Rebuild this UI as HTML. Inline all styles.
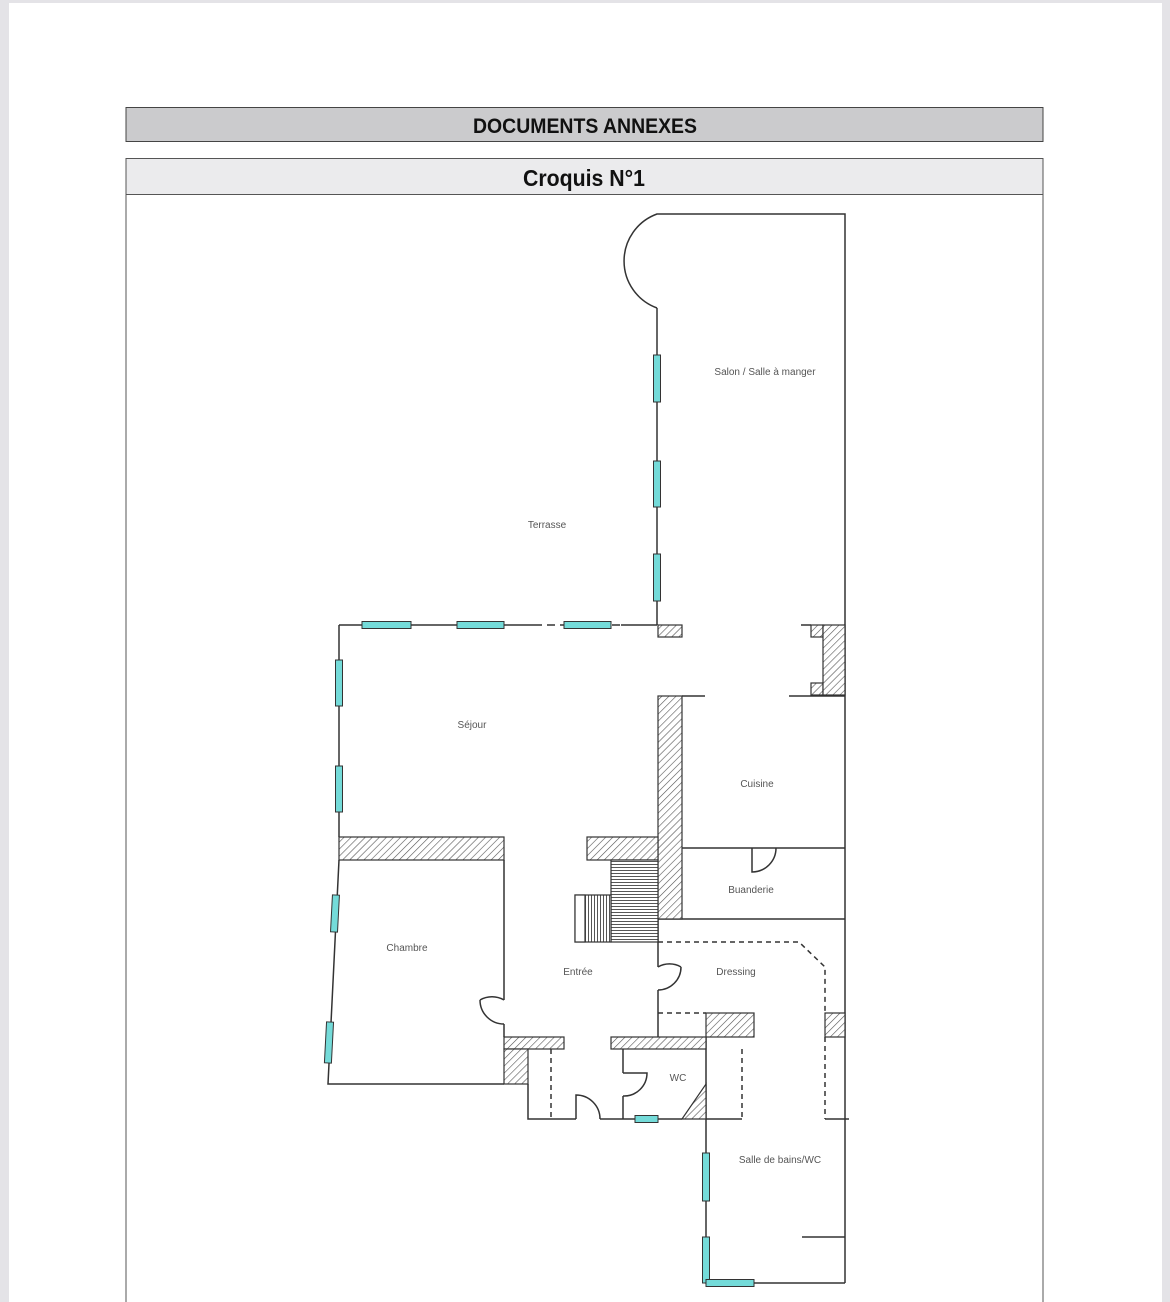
<!DOCTYPE html>
<html><head><meta charset="utf-8"><style>
html,body{margin:0;padding:0;width:1170px;height:1302px;overflow:hidden;background:#e4e3e7;}
svg{display:block}
</style></head><body>
<svg width="1170" height="1302" viewBox="0 0 1170 1302" xmlns="http://www.w3.org/2000/svg">
<defs>
<pattern id="h" patternUnits="userSpaceOnUse" width="5" height="5" patternTransform="rotate(45)">
<rect width="5" height="5" fill="#fff"/><line x1="0" y1="0" x2="0" y2="5" stroke="#555" stroke-width="1.2"/>
</pattern>
<pattern id="sv" patternUnits="userSpaceOnUse" width="3" height="3"><rect width="3" height="3" fill="#fff"/><line x1="0.5" y1="0" x2="0.5" y2="3" stroke="#444" stroke-width="0.9"/></pattern>
<pattern id="sh" patternUnits="userSpaceOnUse" width="3" height="3"><rect width="3" height="3" fill="#fff"/><line x1="0" y1="0.5" x2="3" y2="0.5" stroke="#444" stroke-width="0.9"/></pattern>
</defs>
<rect x="9" y="3" width="1153" height="1299" fill="#fff"/>
<rect x="126" y="107.5" width="917" height="34" fill="#cbcbcd" stroke="#444" stroke-width="1"/>
<text x="473" y="133" textLength="224" lengthAdjust="spacingAndGlyphs" font-family="Liberation Sans, sans-serif" font-weight="bold" font-size="21" fill="#111">DOCUMENTS ANNEXES</text>
<rect x="126" y="158.5" width="917" height="36" fill="#ebebed" stroke="#555" stroke-width="1"/>
<path d="M126 194.5V1302M1043 194.5V1302" stroke="#555" stroke-width="1"/>
<text x="523" y="186" textLength="122" lengthAdjust="spacingAndGlyphs" font-family="Liberation Sans, sans-serif" font-weight="bold" font-size="23" fill="#111">Croquis N°1</text>

<g fill="none" stroke="#333" stroke-width="1.5">
<path d="M657 308 A 50 50 0 0 1 657 214 L845 214 L845 1283"/>
<path d="M657 308 V625"/>
<path d="M339 625 H534 M621 625 H657"/>
<path d="M534 625 H621" stroke-dasharray="8 5"/>
<path d="M339 625 V837 M339 860 L328 1084 H504"/>
<path d="M801 625 H811 M789 696 H845 M682 696 H705"/>
<path d="M682 848 H845 M658 919 H845"/>
<path d="M504 860 V1000 M504 1024 V1037"/>
<path d="M658 919 V967 M658 990 V1037"/>
<path d="M528 1084 V1119 H576 M600 1119 H682 M706 1119 H742"/>
<path d="M623 1049 V1073 M623 1096 V1119"/>
<path d="M706 1037 V1283 H845 M802 1237 H845"/>
<path d="M825 1119 H849"/>
<path d="M752 848 V872 A24 24 0 0 0 776 848"/>
<path d="M504 1000 A24 24 0 0 0 480 1000 M480 1000 A24 24 0 0 0 504 1024"/>
<path d="M658 967 A23 23 0 0 1 681 967 M681 967 A23 23 0 0 1 658 990"/>
<path d="M576 1119 V1095 A24 24 0 0 1 600 1119"/>
<path d="M623 1073 H647 A23 23 0 0 1 623 1096"/>
</g>
<g fill="none" stroke="#333" stroke-width="1.5" stroke-dasharray="5 4">
<path d="M658 942 H799 L825 967 V1013 M825 1037 V1119"/>
<path d="M658 1013 H706"/>
<path d="M551 1049 V1119 M742 1049 V1119"/>
</g>
<g stroke="#333" stroke-width="1.2" fill="url(#h)">
<rect x="658" y="625" width="24" height="12"/>
<rect x="811" y="625" width="12" height="12"/>
<rect x="811" y="683" width="12" height="12"/>
<rect x="823" y="625" width="22" height="70"/>
<rect x="658" y="696" width="24" height="223"/>
<rect x="339" y="837" width="165" height="23"/>
<rect x="587" y="837" width="71" height="23"/>
<rect x="706" y="1013" width="48" height="24"/>
<rect x="825" y="1013" width="20" height="24"/>
<rect x="611" y="1037" width="95" height="12"/>
<rect x="504" y="1037" width="60" height="12"/>
<rect x="504" y="1049" width="24" height="35"/>
<path d="M682 1119 L706 1084 V1119 Z"/>
</g>
<rect x="611" y="860" width="47" height="82" fill="url(#sh)" stroke="#333" stroke-width="1.2"/>
<rect x="575" y="895" width="36" height="47" fill="url(#sv)" stroke="#333" stroke-width="1.2"/>
<rect x="575" y="895" width="10" height="47" fill="#fff" stroke="#333" stroke-width="1.2"/>
<g fill="#74dbd9" stroke="#333" stroke-width="1">
<rect x="653.5" y="355" width="7" height="47"/>
<rect x="653.5" y="461" width="7" height="46"/>
<rect x="653.5" y="554" width="7" height="47"/>
<rect x="362" y="621.5" width="49" height="7"/>
<rect x="457" y="621.5" width="47" height="7"/>
<rect x="564" y="621.5" width="47" height="7"/>
<rect x="335.5" y="660" width="7" height="46"/>
<rect x="335.5" y="766" width="7" height="46"/>
<rect x="331.5" y="895" width="7" height="37" transform="rotate(3 335 913)"/>
<rect x="325.5" y="1022" width="7" height="41" transform="rotate(3 329 1042)"/>
<rect x="635" y="1115.5" width="23" height="7"/>
<rect x="702.5" y="1153" width="7" height="48"/>
<rect x="702.5" y="1237" width="7" height="46"/>
<rect x="706" y="1279.5" width="48" height="7"/>
</g>
<g font-family="Liberation Sans, sans-serif" font-size="10" fill="#555" text-anchor="middle">
<text x="765" y="375">Salon / Salle à manger</text>
<text x="547" y="528">Terrasse</text>
<text x="472" y="728">Séjour</text>
<text x="757" y="787">Cuisine</text>
<text x="751" y="893">Buanderie</text>
<text x="407" y="951">Chambre</text>
<text x="578" y="975">Entrée</text>
<text x="736" y="975">Dressing</text>
<text x="678" y="1081">WC</text>
<text x="780" y="1163">Salle de bains/WC</text>
</g>
</svg>
</body></html>
